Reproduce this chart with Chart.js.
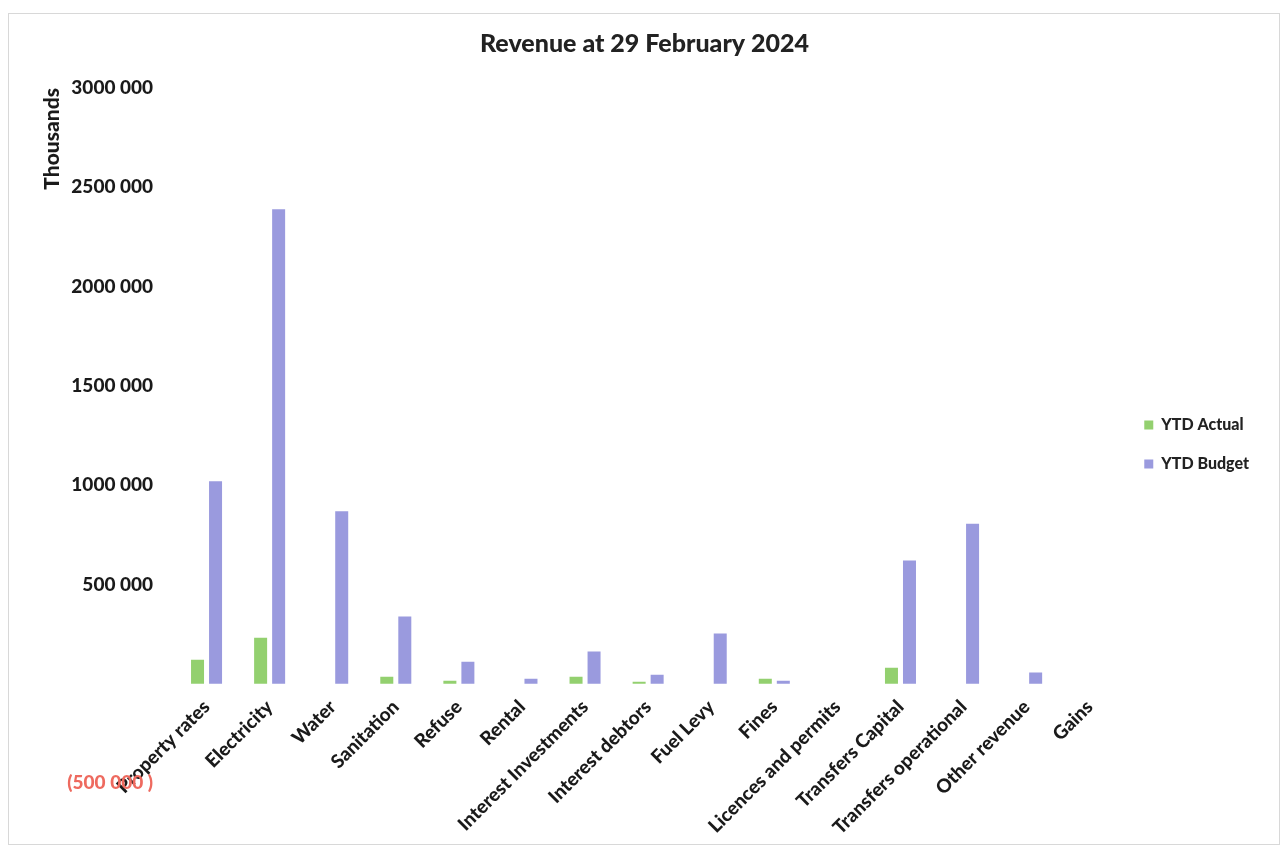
<!DOCTYPE html>
<html lang="en">
  <head>
    <meta charset="UTF-8" />
    <title>Revenue at 29 February 2024</title>
    <style>
      html, body { margin: 0; padding: 0; background: #fff; }
      .wrap { position: relative; width: 1287px; height: 850px; }
      .frame {
        position: absolute; left: 8px; top: 13px; width: 1272px; height: 832px;
        border: 1px solid #d8d8d8; box-sizing: border-box; pointer-events: none;
      }
    </style>
  </head>
  <body>
    <div class="wrap">
      <div class="frame"></div>
      <canvas id="myChart"></canvas>
    </div>

    <script src="https://cdn.jsdelivr.net/npm/chart.js"></script>

    <script>
      const categories = [
        "Property rates",
        "Electricity",
        "Water",
        "Sanitation",
        "Refuse",
        "Rental",
        "Interest Investments",
        "Interest debtors",
        "Fuel Levy",
        "Fines",
        "Licences and permits",
        "Transfers Capital",
        "Transfers operational",
        "Other revenue",
        "Gains",
      ];

      const ytdActual = [121000, 232000, 0, 35000, 15000, 0, 35000, 10000, 0, 25000, 0, 81000, 0, 0, 0];
      const ytdBudget = [1020000, 2389000, 869000, 338000, 111000, 25000, 162000, 45000, 253000, 15000, 0, 621000, 805000, 56000, 0];

      const yMin = -500000;
      const yMax = 3000000;
      const yStep = 500000;

      // Excel style "### ###" with red brackets for negatives, blank zero
      function fmt(v) {
        if (v === 0) return "";
        const a = Math.abs(v);
        const s = Math.floor(a / 1000) + " " + String(a % 1000).padStart(3, "0");
        return v < 0 ? "(" + s + " )" : s;
      }

      const ctx = document.getElementById("myChart");

      const chart = new Chart(ctx, {
        type: "bar",
        data: {
          labels: categories,
          datasets: [
            {
              label: "YTD Actual",
              data: ytdActual,
              backgroundColor: "#93d06f",
              categoryPercentage: 0.571,
              barPercentage: 0.722,
            },
            {
              label: "YTD Budget",
              data: ytdBudget,
              backgroundColor: "#9a9ade",
              categoryPercentage: 0.571,
              barPercentage: 0.722,
            },
          ],
        },
        options: {
          responsive: true,
          maintainAspectRatio: false,
          animation: false,
          layout: {
            padding: { left: 30, right: 28, top: 0, bottom: 67 },
          },
          plugins: {
            title: {
              display: true,
              text: "Revenue at 29 February 2024",
              color: "#222",
              font: { family: "Lato", size: 25, weight: 900 },
              padding: { top: 29, bottom: 29 },
            },
            legend: {
              position: "right",
              align: "center",
              fullSize: false,
              title: { display: true, text: "", padding: { top: 6, bottom: 0 }, font: { size: 10 } },
              labels: {
                boxWidth: 9,
                boxHeight: 9,
                padding: 23,
                color: "#222",
                font: { family: "Lato", size: 16, weight: 900 },
              },
            },
            tooltip: { enabled: false },
          },
          scales: {
            x: {
              position: { y: 0 },
              grid: { display: false, drawTicks: false },
              border: { display: false },
              afterFit: (scale) => {
                scale.paddingLeft = 0;
                scale.paddingRight = 0;
              },
              ticks: {
                maxRotation: 45,
                minRotation: 45,
                autoSkip: false,
                padding: 12,
                color: "#1a1a1a",
                font: { family: "Lato", size: 19, weight: 900 },
              },
            },
            y: {
              min: yMin,
              max: yMax,
              grid: { display: false, drawTicks: false },
              border: { display: false },
              afterFit: (scale) => {
                scale.width = 145;
              },
              ticks: {
                stepSize: yStep,
                padding: 22,
                color: (c) => (c.tick.value < 0 ? "#ee6a5f" : "#1a1a1a"),
                font: { family: "Lato", size: 19, weight: 900 },
                callback: (v) => fmt(v),
              },
              title: {
                display: true,
                text: "Thousands",
                align: "end",
                color: "#1a1a1a",
                font: { family: "Lato", size: 21, weight: 900 },
                padding: { top: 10, bottom: 8 },
              },
            },
          },
        },
      });
    </script>
  </body>
</html>
